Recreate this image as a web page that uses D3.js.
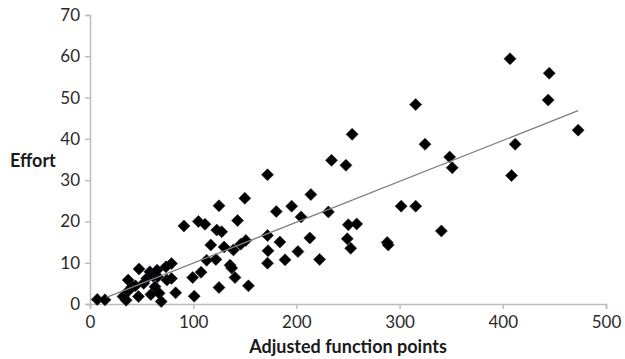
<!DOCTYPE html>
<html>
<head>
<meta charset="utf-8">
<script src="https://cdn.jsdelivr.net/npm/d3@7"></script>
<style>
  html, body { margin: 0; padding: 0; background: #fff; }
  svg { display: block; }
</style>
</head>
<body>
<svg id="chart" width="625" height="359"></svg>
<script>
// ---- data ----
const afp = [7, 14.5, 32, 35, 36.5, 37, 41, 44, 47.5, 47, 52, 55, 58, 59, 61, 63, 65.5, 65, 67, 69, 73.6, 74.5, 79, 79, 83,
  91, 99.5, 101, 105, 107.6, 111.4, 113, 117, 122, 122.8, 125, 125, 127.6, 130, 135.7, 137.3, 139, 140.5, 143, 146, 150, 151, 153.5,
  172, 172, 172.5, 172, 180.5, 184, 189, 195.4, 201.5, 204.5, 213, 214, 222.5, 231, 234, 248, 250.3, 258.4, 249.3, 252.6, 254,
  288, 289, 301.5, 315.6, 315.6, 324.6, 340.5, 348.5, 351, 407, 408.5, 412, 444, 445, 473];
const effort = [1.1, 1.0, 1.8, 0.9, 3, 5.8, 4.2, 4.4, 8.5, 1.8, 5, 6.2, 7.8, 2.3, 6.8, 4.2, 6.6, 8.2, 2.6, 0.6, 9, 5.8, 9.8, 6.2, 2.7,
  18.9, 6.4, 1.9, 20, 7.7, 19.3, 10.6, 14.3, 10.8, 17.9, 23.8, 4, 17.5, 13.8, 9.4, 8.7, 13.1, 6.4, 20.2, 14.5, 25.6, 15.4, 4.4,
  31.3, 16.6, 12.9, 9.9, 22.4, 15, 10.7, 23.7, 12.7, 21.1, 16, 26.5, 10.8, 22.3, 34.8, 33.6, 19.2, 19.4, 15.8, 13.5, 41.1,
  14.9, 14.3, 23.7, 48.3, 23.7, 38.7, 17.7, 35.6, 33, 59.4, 31.1, 38.7, 49.4, 55.9, 42.1];
const trendSlope = 0.099;
const trendIntercept = 0.0;
const trendRange = [16, 473];
const xTicks = [0, 100, 200, 300, 400, 500];
const yTicks = [0, 10, 20, 30, 40, 50, 60, 70];
const xTitle = "Adjusted function points";
const yTitle = "Effort";

// ---- chart ----
const svg = d3.select("#chart");
const x = d3.scaleLinear().domain([0, 500]).range([90, 606]);
const y = d3.scaleLinear().domain([0, 70]).range([304, 15]);
const axisColor = "#bdbdbd";
const font = "Lato, 'Open Sans', sans-serif";

const xAxis = svg.append("g").attr("transform", `translate(0,${y(0)})`)
  .call(d3.axisBottom(x).tickValues(xTicks).tickSize(5).tickPadding(5).tickFormat(d3.format("d")));
const yAxis = svg.append("g").attr("transform", `translate(${x(0)},0)`)
  .call(d3.axisLeft(y).tickValues(yTicks).tickSize(5).tickPadding(5).tickFormat(d3.format("d")));
[xAxis, yAxis].forEach(g => {
  g.select(".domain").attr("stroke", axisColor).attr("stroke-width", 1.5);
  g.selectAll(".tick line").attr("stroke", axisColor).attr("stroke-width", 1.5);
  g.selectAll(".tick text").attr("fill", "#2a2a2a").style("font-family", font).style("font-size", "17px");
});
xAxis.selectAll(".tick text").attr("dy", "0.85em");

// points
const pts = afp.map((v, i) => [v, effort[i]]);
svg.append("g").selectAll("path").data(pts).enter().append("path")
  .attr("d", d3.symbol(d3.symbolSquare, 72)())
  .attr("transform", d => `translate(${x(d[0])},${y(d[1])}) rotate(45)`)
  .attr("fill", "#000")
  .attr("stroke", "#1a2233")
  .attr("stroke-width", 0.6);

// trend line
svg.append("line")
  .attr("x1", x(trendRange[0])).attr("y1", y(trendSlope * trendRange[0] + trendIntercept))
  .attr("x2", x(trendRange[1])).attr("y2", y(trendSlope * trendRange[1] + trendIntercept))
  .attr("stroke", "#808080").attr("stroke-width", 1.3);

// titles
svg.append("text").attr("x", 10).attr("y", 167).text(yTitle)
  .attr("fill", "#1a1a1a").style("font-family", font).style("font-weight", "bold").style("font-size", "18px");
svg.append("text").attr("x", 348).attr("y", 353).attr("text-anchor", "middle").text(xTitle)
  .attr("fill", "#1a1a1a").style("font-family", font).style("font-weight", "bold").style("font-size", "18px");
</script>
</body>
</html>
